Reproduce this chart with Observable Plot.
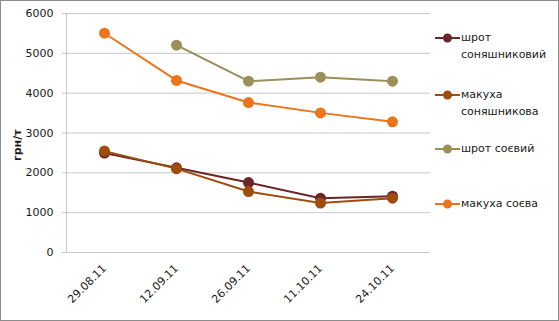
<!DOCTYPE html>
<html>
<head>
<meta charset="utf-8">
<script src="https://cdn.jsdelivr.net/npm/d3@7"></script>
<script src="https://cdn.jsdelivr.net/npm/@observablehq/plot@0.6"></script>
<style>
  body { margin: 0; background: #fff; }
  #wrap { position: relative; width: 559px; height: 321px; font-family: "DejaVu Sans", sans-serif; }
  #border { position: absolute; left: 0; top: 0; width: 559px; height: 321px; box-sizing: border-box; border: 1px solid #8c8c8c; pointer-events: none; }
  .leg { position: absolute; left: 435px; font-size: 11px; color: #1a1a1a; line-height: 17px; display: flex; align-items: flex-start; }
  .leg svg { flex: none; margin-top: 2px; }
  .leg span { margin-left: 1px; }
  #ylab { position: absolute; left: 7px; top: 151px; transform: translate(0,-50%) rotate(-90deg); transform-origin: center; font-weight: bold; font-size: 11px; color: #1a1a1a; white-space: nowrap; width: 20px; text-align: center; }
</style>
</head>
<body>
<div id="wrap"></div>
<script>
const dates = ["29.08.11", "12.09.11", "26.09.11", "11.10.11", "24.10.11"];
const seriesNames = ["шрот соняшниковий", "макуха соняшникова", "шрот соєвий", "макуха соєва"];
const legendLines = [["шрот", "соняшниковий"], ["макуха", "соняшникова"], ["шрот соєвий"], ["макуха соєва"]];
const colors = ["#6b2526", "#9e4d0c", "#9b8f5a", "#eb741d"];
const shrotSonyash = [2495, 2125, 1755, 1360, 1415];
const makukhaSonyash = [2545, 2105, 1530, 1240, 1365];
const shrotSoev = [null, 5205, 4300, 4400, 4300];
const makukhaSoeva = [5505, 4320, 3765, 3505, 3280];
const yTicks = [0, 1000, 2000, 3000, 4000, 5000, 6000];
const legendTops = [29, 86, 140, 195];

const valueArrays = [shrotSonyash, makukhaSonyash, shrotSoev, makukhaSoeva];
const data = [];
seriesNames.forEach((s, i) => {
  valueArrays[i].forEach((v, j) => { if (v != null) data.push({series: s, date: dates[j], value: v}); });
});

const chart = Plot.plot({
  width: 559,
  height: 321,
  marginLeft: 66,
  marginRight: 129,
  marginTop: 13,
  marginBottom: 69,
  style: {fontFamily: "'DejaVu Sans', sans-serif", fontSize: "11px", color: "#1a1a1a", background: "transparent"},
  x: {type: "point", domain: dates, padding: 0.5, label: null},
  y: {domain: [0, 6000], label: null},
  color: {domain: seriesNames, range: colors},
  marks: [
    Plot.gridY(yTicks, {stroke: "#c8c8c8", strokeOpacity: 1}),
    Plot.axisY(yTicks, {tickSize: 4, tickPadding: 9, stroke: "#c8c8c8", strokeOpacity: 1, fill: "#1a1a1a", tickFormat: d => String(d), label: null}),
    Plot.frame({anchor: "left", stroke: "#c8c8c8"}),
    Plot.axisX({tickSize: 0, tickRotate: -45, tickPadding: 14, label: null, fill: "#1a1a1a"}),
    Plot.line(data, {x: "date", y: "value", z: "series", stroke: "series", strokeWidth: 2}),
    Plot.dot(data, {x: "date", y: "value", fill: "series", r: 5.5})
  ]
});

const wrap = document.getElementById("wrap");
wrap.appendChild(chart);

const yl = document.createElement("div");
yl.id = "ylab";
yl.textContent = "грн/т";
wrap.appendChild(yl);

seriesNames.forEach((s, i) => {
  const d = document.createElement("div");
  d.className = "leg";
  d.style.top = legendTops[i] + "px";
  d.innerHTML = `<svg width="25" height="14"><line x1="0" x2="25" y1="7" y2="7" stroke="${colors[i]}" stroke-width="2"/><circle cx="12.5" cy="7" r="4.5" fill="${colors[i]}"/></svg><span>${legendLines[i].join("<br>")}</span>`;
  wrap.appendChild(d);
});

const b = document.createElement("div");
b.id = "border";
wrap.appendChild(b);
</script>
</body>
</html>
